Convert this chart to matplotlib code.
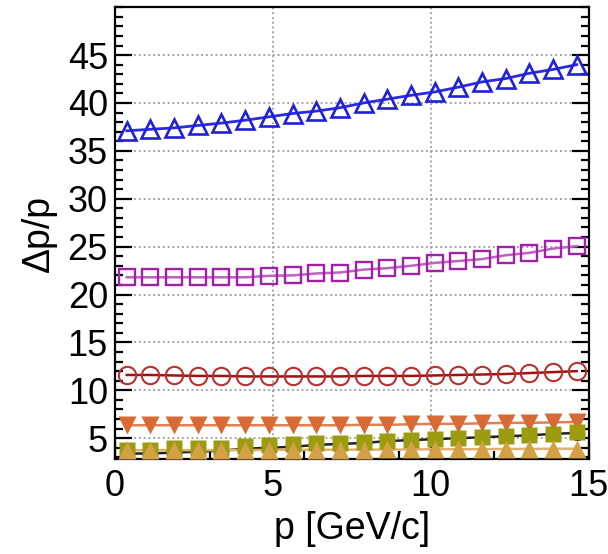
import numpy as np
import matplotlib
matplotlib.use("Agg")
import matplotlib.pyplot as plt
from matplotlib.ticker import MultipleLocator

plt.rcParams['font.family'] = ['Liberation Sans', 'DejaVu Sans']

# momentum bin centres [GeV/c]
p = [0.375, 1.125, 1.875, 2.625, 3.375, 4.125, 4.875, 5.625, 6.375, 7.125,
     7.875, 8.625, 9.375, 10.125, 10.875, 11.625, 12.375, 13.125, 13.875, 14.625]

# dp/p for each configuration
blue_tri = [37.1, 37.25, 37.4, 37.65, 37.9, 38.2, 38.55, 38.9, 39.15, 39.5,
            40.0, 40.4, 40.8, 41.15, 41.65, 42.2, 42.55, 43.1, 43.5, 44.0]
mag_sq = [21.8, 21.8, 21.8, 21.8, 21.8, 21.8, 21.95, 22.0, 22.2, 22.3,
          22.6, 22.75, 23.0, 23.3, 23.5, 23.7, 24.1, 24.35, 24.8, 25.05]
red_circ = [11.6, 11.6, 11.55, 11.5, 11.5, 11.45, 11.45, 11.45, 11.45, 11.45,
            11.5, 11.5, 11.5, 11.55, 11.6, 11.65, 11.7, 11.8, 11.9, 12.0]
orange_dn = [6.35, 6.35, 6.35, 6.35, 6.35, 6.35, 6.35, 6.35, 6.35, 6.35,
             6.4, 6.4, 6.45, 6.5, 6.5, 6.55, 6.6, 6.6, 6.65, 6.7]
black_circ = [3.4, 3.4, 3.5, 3.6, 3.7, 3.9, 4.0, 4.1, 4.3, 4.4,
              4.5, 4.7, 4.8, 4.9, 5.0, 5.1, 5.2, 5.3, 5.45, 5.55]
olive_sq = [3.8, 3.8, 3.95, 3.95, 4.0, 4.2, 4.3, 4.4, 4.45, 4.5,
            4.6, 4.7, 4.8, 4.9, 5.0, 5.1, 5.2, 5.3, 5.45, 5.6]
tan_tri = [3.75, 3.75, 3.75, 3.75, 3.75, 3.75, 3.78, 3.78, 3.8, 3.8,
           3.8, 3.82, 3.82, 3.85, 3.85, 3.85, 3.88, 3.88, 3.9, 3.9]

fig = plt.figure(figsize=(6.08, 5.54), dpi=100)
ax = fig.add_axes([0.189, 0.171, 0.779, 0.816])

# lines through the points
ax.plot(p, blue_tri, '-', color='#2a2ae0', lw=2.0, zorder=2)
ax.plot(p, mag_sq, '-', color='#c060c0', lw=1.8, zorder=2)
ax.plot(p, red_circ, '-', color='#a01010', lw=1.8, zorder=2)
ax.plot(p, orange_dn, '-', color='#e08050', lw=1.8, zorder=2)
ax.plot(p, black_circ, '-', color='#222222', lw=1.8, zorder=2)
ax.plot(p, tan_tri, '-', color='#e0b070', lw=1.8, zorder=2)

# markers
ax.plot(p, blue_tri, '^', ms=13.5, mfc='none', mec='#2020d8', mew=1.9, zorder=3)
ax.plot(p, mag_sq, 's', ms=11.5, mfc='none', mec='#a020a8', mew=1.7, zorder=3)
ax.plot(p, red_circ, 'o', ms=12.5, mfc='none', mec='#b83030', mew=1.5, zorder=3)
ax.plot(p, orange_dn, 'v', ms=13, color='#d86a35', mec='none', zorder=3)
ax.plot(p, black_circ, 'o', ms=11, color='#111111', mec='none', zorder=3)
ax.plot(p, olive_sq, 's', ms=11.5, color='#9c9c10', mec='none', zorder=4)
ax.plot(p, tan_tri, '^', ms=13, color='#d4a045', mec='none', zorder=5)

ax.set_xlim(0, 15)
ax.set_ylim(2.8, 50)
ax.xaxis.set_major_locator(MultipleLocator(5))
ax.xaxis.set_minor_locator(MultipleLocator(1))
ax.yaxis.set_major_locator(MultipleLocator(5))
ax.yaxis.set_minor_locator(MultipleLocator(1))
ax.set_yticks([5, 10, 15, 20, 25, 30, 35, 40, 45])

ax.grid(True, which='major', ls=':', color='#999999', lw=1.3)
ax.tick_params(which='both', direction='in', left=True, right=True,
               bottom=True, top=False, labelsize=26, width=1.6)
ax.tick_params(axis='x', pad=7)
ax.tick_params(axis='y', pad=5)
ax.tick_params(which='major', length=12)
ax.tick_params(which='minor', length=6)
for s in ax.spines.values():
    s.set_linewidth(1.6)

ax.set_xlabel('p [GeV/c]', fontsize=27, labelpad=5)
ax.set_ylabel('Δp/p', fontsize=27, labelpad=8)

fig.savefig('out.png', dpi=100)
